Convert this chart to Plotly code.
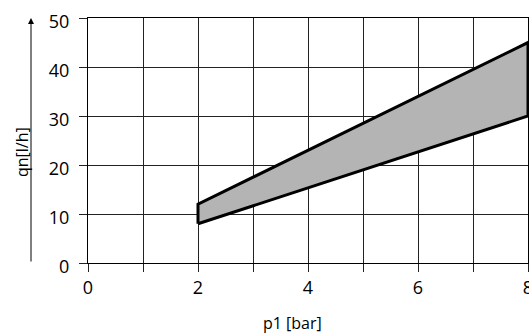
import plotly.graph_objects as go

# Data
p1_bar = [2, 8]
qn_upper = [12, 45]
qn_lower = [8, 30]

x_ticks = [0, 1, 2, 3, 4, 5, 6, 7, 8]
x_tick_labels = ["0", "", "2", "", "4", "", "6", "", "8"]
y_ticks = [0, 10, 20, 30, 40, 50]

poly_x = [p1_bar[0], p1_bar[0], p1_bar[1], p1_bar[1], p1_bar[0]]
poly_y = [qn_lower[0], qn_upper[0], qn_upper[1], qn_lower[1], qn_lower[0]]

font = "Open Sans, DejaVu Sans, sans-serif"

fig = go.Figure()
fig.add_trace(go.Scatter(
    x=poly_x, y=poly_y, mode="lines", fill="toself",
    fillcolor="#b4b4b4", line=dict(color="black", width=3),
    hoverinfo="skip", showlegend=False,
))

fig.update_layout(
    width=529, height=333,
    margin=dict(l=88, r=1, t=18, b=70),
    paper_bgcolor="white", plot_bgcolor="white",
    font=dict(family=font, size=18, color="black"),
    xaxis=dict(
        range=[0, 8], tickvals=x_ticks, ticktext=x_tick_labels,
        showgrid=True, gridcolor="#222", gridwidth=1,
        ticks="outside", ticklen=8, tickcolor="#222", tickwidth=1,
        showline=True, linecolor="black", linewidth=1, mirror=True,
        zeroline=False, fixedrange=True, ticklabeloverflow="allow",
        automargin=False,
    ),
    yaxis=dict(
        range=[0, 50], tickvals=y_ticks,
        showgrid=True, gridcolor="#222", gridwidth=1,
        ticks="outside", ticklen=8, tickcolor="#222", tickwidth=1,
        showline=True, linecolor="black", linewidth=1, mirror=True,
        zeroline=False, fixedrange=True, ticklabeloverflow="allow",
        ticklabelshift=4, ticklabelstandoff=6, automargin=False,
    ),
    annotations=[
        dict(text="p1 [bar]", xref="paper", yref="paper",
             x=(292 - 88) / 440, y=-(323 - 263) / 245,
             showarrow=False, xanchor="center", yanchor="middle",
             font=dict(size=16)),
        dict(text="qn[l/h]", xref="paper", yref="paper",
             x=-(88 - 22) / 440, y=(263 - 152) / 245, textangle=-90,
             showarrow=False, xanchor="center", yanchor="middle",
             font=dict(size=16)),
        dict(text="", xref="paper", yref="paper",
             x=-(88 - 31) / 440, y=(263 - 18) / 245,
             ax=0, ay=245, axref="pixel", ayref="pixel",
             showarrow=True, arrowhead=2, arrowsize=1.2, arrowwidth=1,
             arrowcolor="black"),
    ],
)

fig.write_html("out.html", config={"displayModeBar": False},
               post_script="document.body.style.margin='0';")
